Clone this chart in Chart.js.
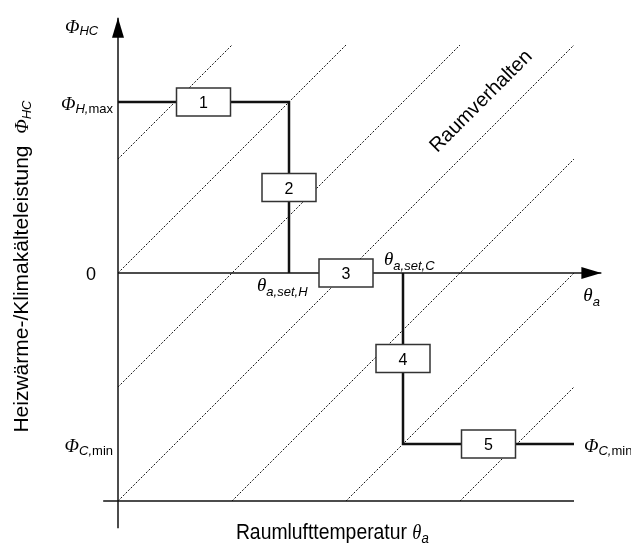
<!DOCTYPE html>
<html>
<head>
<meta charset="utf-8">
<script src="https://cdn.jsdelivr.net/npm/chart.js@4/dist/chart.umd.min.js"></script>
<style>
  html, body { margin: 0; padding: 0; background: #fff; }
  #wrap { width: 631px; height: 543px; position: relative; }
</style>
</head>
<body>
<div id="wrap"><canvas id="chart-raum"></canvas></div>
<script>
// Kennlinie Heizen / Kuehlen (schematisch, Einheiten willkuerlich)
var curveX = [0, 1.5, 1.5, 2.5, 2.5, 4.0];
var curveY = [1.5, 1.5, 0, 0, -1.5, -1.5];
var boxLabels = ["1", "2", "3", "4", "5"];

// Raumverhalten: Geraden y = x + c
var diagOffsets = [1, 0, -1, -2, -3, -4, -5];
var diagBox = [0, 4, -2, 2]; // xmin, xmax, ymin, ymax

// Achsen
var axisYRange = [-2.24, 2.24];
var axisXRange = [0, 4.24];
var baseX = [-0.13, 4.0];
var baseY = -2;

var LINE = "#111";
var SANS = '"Liberation Sans", Arial, sans-serif';
var SERIF_I = 'italic 19px "Liberation Serif", serif';
var SUB_I = 'italic 13px ' + SANS;
var SUB = '13px ' + SANS;

function pts(xs, ys) {
  return xs.map(function (x, i) { return { x: x, y: ys[i] }; });
}

var datasets = [];
diagOffsets.forEach(function (c) {
  var x1 = Math.max(diagBox[0], diagBox[2] - c);
  var x2 = Math.min(diagBox[1], diagBox[3] - c);
  datasets.push({
    data: [{ x: x1, y: x1 + c }, { x: x2, y: x2 + c }],
    borderColor: "#111", borderWidth: 1, borderDash: [2, 1.6], pointRadius: 0
  });
});
datasets.push({ data: pts([0, 0], axisYRange), borderColor: LINE, borderWidth: 1.5, pointRadius: 0 });
datasets.push({ data: pts(axisXRange, [0, 0]), borderColor: LINE, borderWidth: 1.5, pointRadius: 0 });
datasets.push({ data: pts(baseX, [baseY, baseY]), borderColor: LINE, borderWidth: 1.5, pointRadius: 0 });
datasets.push({
  data: pts(curveX, curveY), borderColor: LINE, borderWidth: 2.5, pointRadius: 0,
  borderJoinStyle: "miter",
  segment: { borderColor: function (ctx) { return ctx.p0DataIndex === 2 ? "rgba(0,0,0,0)" : LINE; } }
});

// Text mit Indizes; sx = horizontale Stauchung
function rich(ctx, parts, x, y, align, sx) {
  sx = sx || 1;
  var w = 0;
  parts.forEach(function (p) { ctx.font = p[1]; w += ctx.measureText(p[0]).width; });
  w *= sx;
  var cx = align === "right" ? x - w : (align === "center" ? x - w / 2 : x);
  ctx.save();
  ctx.translate(cx, y);
  ctx.scale(sx, 1);
  var ox = 0;
  parts.forEach(function (p) {
    ctx.font = p[1];
    ctx.fillText(p[0], ox, p[2] || 0);
    ox += ctx.measureText(p[0]).width;
  });
  ctx.restore();
}

function arrow(ctx, x, y, dir) {
  var L = 20, H = 6;
  ctx.beginPath();
  if (dir === "up") { ctx.moveTo(x, y); ctx.lineTo(x - H, y + L); ctx.lineTo(x + H, y + L); }
  else { ctx.moveTo(x, y); ctx.lineTo(x - L, y - H); ctx.lineTo(x - L, y + H); }
  ctx.closePath();
  ctx.fill();
}

var annotate = {
  id: "annotate",
  afterDatasetsDraw: function (chart) {
    var ctx = chart.ctx, sx = chart.scales.x, sy = chart.scales.y;
    var px = function (v) { return sx.getPixelForValue(v); };
    var py = function (v) { return sy.getPixelForValue(v); };
    ctx.save();
    ctx.fillStyle = "#000";
    ctx.textAlign = "left";
    ctx.textBaseline = "alphabetic";

    arrow(ctx, px(0), py(axisYRange[1]), "up");
    arrow(ctx, px(axisXRange[1]), py(0), "right");

    // Kaesten 1..5 in der Mitte jedes Abschnitts
    for (var i = 0; i < boxLabels.length; i++) {
      var mx = px((curveX[i] + curveX[i + 1]) / 2);
      var my = py((curveY[i] + curveY[i + 1]) / 2);
      ctx.fillStyle = "#fff";
      ctx.fillRect(mx - 27, my - 14, 54, 28);
      ctx.strokeStyle = "#333";
      ctx.lineWidth = 1.5;
      ctx.strokeRect(mx - 27, my - 14, 54, 28);
      ctx.fillStyle = "#000";
      ctx.font = "16px " + SANS;
      ctx.textAlign = "center";
      ctx.fillText(boxLabels[i], mx, my + 6);
      ctx.textAlign = "left";
    }

    var x0 = px(0);
    rich(ctx, [["\u03A6", SERIF_I], ["HC", SUB_I, 2]], x0 - 53, py(axisYRange[1]) + 15, "left");
    rich(ctx, [["\u03A6", SERIF_I], ["H,", SUB_I, 3], ["max", SUB, 3]], x0 - 5, py(curveY[0]) + 8, "right");
    rich(ctx, [["\u03A6", SERIF_I], ["C,", SUB_I, 3], ["min", SUB, 3]], x0 - 5, py(curveY[5]) + 8, "right");
    rich(ctx, [["\u03A6", SERIF_I], ["C,", SUB_I, 3], ["min", SUB, 3]], px(curveX[5]) + 10, py(curveY[5]) + 8, "left");
    rich(ctx, [["0", "19px " + SANS]], x0 - 22, py(0) + 7, "right", 0.95);

    rich(ctx, [["\u03B8", SERIF_I], ["a,set,H", SUB_I, 5]], px(curveX[1]) - 32, py(0) + 18, "left");
    rich(ctx, [["\u03B8", SERIF_I], ["a,set,C", SUB_I, 5]], px(curveX[3]) - 19, py(0) - 8, "left");
    rich(ctx, [["\u03B8", SERIF_I], ["a", SUB_I, 5]], px(axisXRange[1]) - 18, py(0) + 28, "left");

    // Achsentitel
    rich(ctx, [["Raumlufttemperatur ", "22px " + SANS], ["\u03B8", 'italic 21px "Liberation Serif", serif'], ["a", 'italic 15px ' + SANS, 4]],
      px(1.88), chart.height - 4, "center", 0.88);
    ctx.save();
    ctx.translate(28, py(-1.4));
    ctx.rotate(-Math.PI / 2);
    rich(ctx, [["Heizw\u00E4rme-/Klimak\u00E4lteleistung  ", "21px " + SANS], ["\u03A6", SERIF_I], ["HC", SUB_I, 3]], 0, 0, "left");
    ctx.restore();

    ctx.save();
    ctx.translate(px(3.22), py(1.47));
    ctx.rotate(-Math.PI / 4);
    ctx.font = "20px " + SANS;
    ctx.textAlign = "center";
    ctx.fillText("Raumverhalten", 0, 0);
    ctx.restore();

    ctx.restore();
  }
};

var unit = 114;
var ctxRaum = document.getElementById("chart-raum");
ctxRaum && new Chart(ctxRaum.getContext("2d"), {
  type: "line",
  data: { datasets: datasets },
  options: {
    responsive: true,
    maintainAspectRatio: false,
    animation: false,
    layout: { padding: 0 },
    plugins: { legend: { display: false }, tooltip: { enabled: false } },
    scales: {
      x: { type: "linear", display: false, min: -118 / unit, max: (631 - 118) / unit },
      y: { type: "linear", display: false, min: -(543 - 273) / unit, max: 273 / unit }
    }
  },
  plugins: [annotate]
});
</script>
</body>
</html>
